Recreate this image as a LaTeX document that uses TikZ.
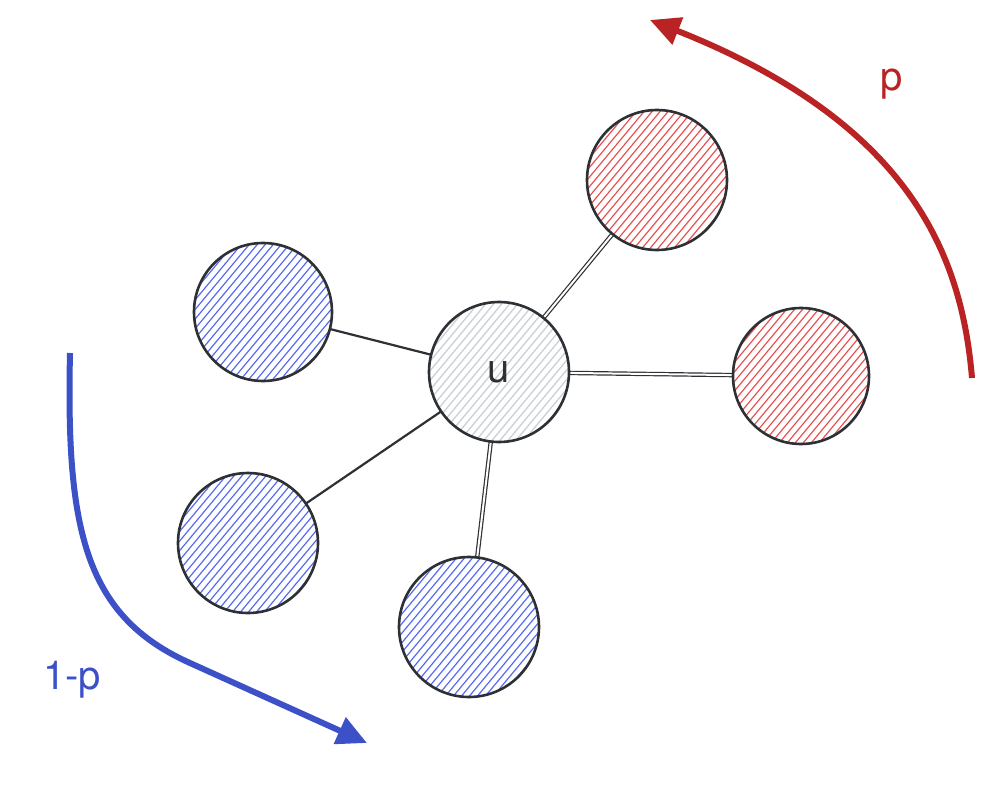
\documentclass[tikz,border=0pt]{standalone}
\usepackage{fontspec}
\setmainfont{TeX Gyre Heros}
\usetikzlibrary{arrows.meta}
\definecolor{outl}{RGB}{45,48,52}
\definecolor{redA}{RGB}{185,35,35}
\definecolor{blueA}{RGB}{60,80,200}
\definecolor{redH}{RGB}{232,80,80}
\definecolor{blueH}{RGB}{85,105,240}
\definecolor{grayH}{RGB}{200,205,212}
\tikzset{
  hatched/.style={path picture={
    \foreach \k in {-190,-182,...,190}{
      \draw[#1,line width=1.2pt] ([shift={(\k pt-75pt,-90pt)}]path picture bounding box.center) -- ++(150pt,180pt);
    }}},
  vert/.style={circle,draw=outl,line width=2.6pt,minimum size=#1,inner sep=0pt},
  edgeD/.style={draw=outl,line width=1.2pt,double=white,double distance=2pt},
  edgeS/.style={draw=outl,line width=2.2pt},
  arr/.style={line width=6pt,-{Triangle[length=30pt,width=28pt]}},
  lbl/.style={font=\fontsize{40pt}{44pt}\selectfont}
}
\begin{document}
\begin{tikzpicture}[x=1pt,y=-1pt]
\useasboundingbox (0,0) rectangle (1002,792);
% edges first
\coordinate (uc) at (499,372);
\coordinate (b1c) at (263,312);
\coordinate (b2c) at (248,543);
\coordinate (b3c) at (469,627);
\coordinate (r1c) at (657,180);
\coordinate (r2c) at (801,376);
\draw[edgeS] (uc) -- (b1c);
\draw[edgeS] (uc) -- (b2c);
\draw[edgeD] (uc) -- (b3c);
\draw[edgeD] (uc) -- (r1c);
\draw[edgeD] (uc) -- (r2c);
% nodes
\node[vert=140pt,hatched=grayH,fill=white] (u) at (uc) {};
\node[lbl,text=outl] at (uc) {u};
\node[vert=138pt,hatched=blueH,fill=white] (b1) at (b1c) {};
\node[vert=140pt,hatched=blueH,fill=white] (b2) at (b2c) {};
\node[vert=140pt,hatched=blueH,fill=white] (b3) at (b3c) {};
\node[vert=140pt,hatched=redH,fill=white] (r1) at (r1c) {};
\node[vert=136pt,hatched=redH,fill=white] (r2) at (r2c) {};
% arrows
\coordinate (rs) at (972,378);
\coordinate (re) at (650,20);
\draw[arr,draw=redA] (rs) .. controls (962,260) and (915,125) .. (re);
\coordinate (bs) at (70,353);
\coordinate (be) at (367,743);
\draw[arr,draw=blueA] (bs) .. controls (66,530) and (85,616) .. (190,663) -- (be);
\node[lbl,text=redA] (p) at (892,84) {p};
\node[lbl,text=blueA] (q) at (72,680) {1-p};
\end{tikzpicture}
\end{document}
